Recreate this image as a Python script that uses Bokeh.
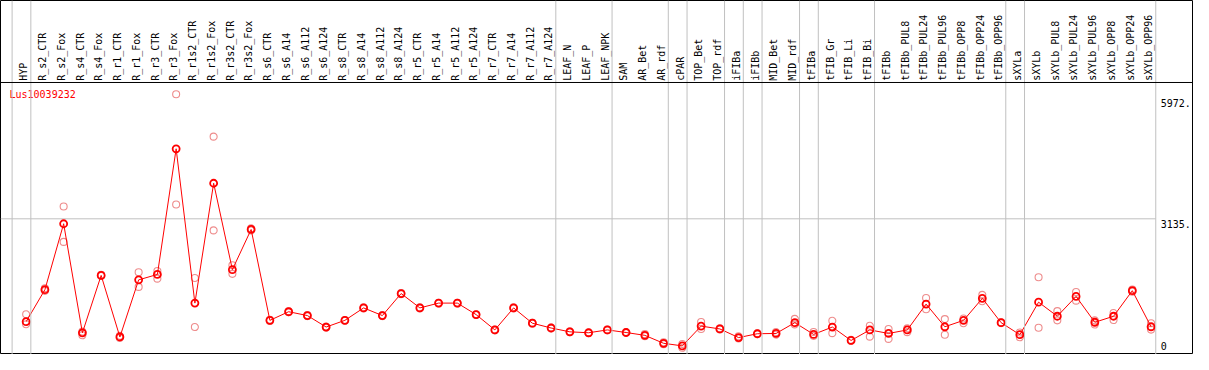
import math
from bokeh.plotting import figure
from bokeh.models import Range1d, Span, ColumnDataSource
from bokeh.core.properties import value
from bokeh.embed import file_html
from bokeh.resources import INLINE

gene = "Lus10039232"

samples = [
    "HYP", "R_s2_CTR", "R_s2_Fox", "R_s4_CTR", "R_s4_Fox", "R_r1_CTR", "R_r1_Fox",
    "R_r3_CTR", "R_r3_Fox", "R_r1s2_CTR", "R_r1s2_Fox", "R_r3s2_CTR", "R_r3s2_Fox",
    "R_s6_CTR", "R_s6_A14", "R_s6_A112", "R_s6_A124", "R_s8_CTR", "R_s8_A14",
    "R_s8_A112", "R_s8_A124", "R_r5_CTR", "R_r5_A14", "R_r5_A112", "R_r5_A124",
    "R_r7_CTR", "R_r7_A14", "R_r7_A112", "R_r7_A124", "LEAF_N", "LEAF_P", "LEAF_NPK",
    "SAM", "AR_Bet", "AR_rdf", "cPAR", "TOP_Bet", "TOP_rdf", "iFIBa", "iFIBb",
    "MID_Bet", "MID_rdf", "tFIBa", "tFIB_Gr", "tFIB_Li", "tFIB_Bi", "tFIBb",
    "tFIBb_PUL8", "tFIBb_PUL24", "tFIBb_PUL96", "tFIBb_OPP8", "tFIBb_OPP24",
    "tFIBb_OPP96", "sXYLa", "sXYLb", "sXYLb_PUL8", "sXYLb_PUL24", "sXYLb_PUL96",
    "sXYLb_OPP8", "sXYLb_OPP24", "sXYLb_OPP96",
]

means = [
    714, 1466, 3019, 452, 1803, 354, 1698, 1826, 4783, 1151, 3972, 1939, 2884,
    745, 948, 858, 588, 745, 1038, 858, 1376, 1038, 1151, 1151, 880, 520, 1038,
    678, 565, 475, 453, 520, 459, 392, 205, 144, 610, 543, 340, 430, 437, 691,
    414, 588, 272, 520, 437, 520, 1128, 594, 745, 1263, 691, 407, 1173, 842,
    1308, 700, 842, 1443, 594,
]

rep1 = [
    887, 1500, 3425, 480, 1820, 380, 1878, 1908, 6066, 1743, 5069, 2042, 2910,
    760, 960, 870, 600, 755, 1050, 870, 1390, 1050, 1160, 1160, 890, 530, 1050,
    690, 575, 485, 460, 530, 470, 420, 230, 190, 707, 560, 370, 440, 470, 781,
    470, 736, 285, 617, 543, 557, 1270, 775, 790, 1345, 700, 459, 1759, 962,
    1412, 745, 917, 1470, 678,
]

rep2 = [
    655, 1440, 2592, 394, 1790, 330, 1533, 1727, 3470, 588, 2862, 1840, 2860,
    730, 935, 845, 575, 735, 1025, 845, 1360, 1025, 1140, 1140, 870, 510, 1025,
    665, 555, 465, 445, 510, 450, 370, 185, 100, 543, 530, 320, 420, 410, 650,
    380, 444, 260, 362, 309, 467, 1007, 407, 678, 1195, 680, 347, 572, 745,
    1209, 646, 752, 1420, 527,
]

# y-axis tick values shown on the right
tick_values = [0, 3135, 5972]
tick_labels = ["0", "3135.", "5972."]

# last sample index of each group (a gray separator follows each)
group_ends = [-1, 0, 28, 31, 34, 35, 37, 38, 39, 41, 42, 45, 52, 53, 60]

# ---- layout (reference geometry: 19px per sample, zero at y=367.4px) ----
W, H = 1193, 354
REF_W, REF_H = 1209, 370
X0_PX, STEP_PX = 26.0, 19.0
Y0_PX, PX_PER_UNIT = 367.4, 0.04441

def v_at(px):
    return (Y0_PX - px) / PX_PER_UNIT

x_range = Range1d(-X0_PX / STEP_PX, (REF_W - X0_PX) / STEP_PX)
y_range = Range1d(v_at(REF_H), v_at(0))

p = figure(width=W, height=H, x_range=x_range, y_range=y_range,
           x_axis_type=None, y_axis_type=None, toolbar_location=None,
           output_backend="svg", min_border=0)
p.xgrid.visible = False
p.ygrid.visible = False
p.outline_line_color = "black"
p.outline_line_width = 1
p.background_fill_color = "white"
p.border_fill_color = "white"

FONT = value("DejaVu Sans Mono")
GRAY = "#c0c0c0"
RED = "#ff0000"
PINK = "#ee8c8c"

n = len(samples)
idx = list(range(n))

# group separators
for g in group_ends:
    p.add_layout(Span(location=g + 0.25, dimension="height",
                      line_color=GRAY, line_width=1))

# horizontal gridline at middle tick
p.segment(x0=[x_range.start], x1=[group_ends[-1] + 0.25],
          y0=[tick_values[1]], y1=[tick_values[1]],
          line_color=GRAY, line_width=1)

# header separator
header_v = v_at(85.7)
p.add_layout(Span(location=header_v, dimension="width",
                  line_color="black", line_width=1))

# sample labels (vertical)
lab_src = ColumnDataSource(dict(x=[i - 0.12 for i in idx],
                                y=[v_at(84.0)] * n, text=samples))
p.text(x="x", y="y", text="text", source=lab_src, angle=math.pi / 2,
       text_align="left", text_baseline="middle", text_font=FONT,
       text_font_size="10px", text_color="black")

# y tick labels
xt = group_ends[-1] + 0.25
p.text(x=[xt], y=[tick_values[0]], text=[tick_labels[0]], x_offset=5, y_offset=-2,
       text_align="left", text_baseline="bottom", text_font=FONT,
       text_font_size="10px", text_color="black")
p.text(x=[xt, xt], y=tick_values[1:], text=tick_labels[1:], x_offset=5, y_offset=1,
       text_align="left", text_baseline="top", text_font=FONT,
       text_font_size="10px", text_color="black")

# gene title
p.text(x=[x_range.start], y=[v_at(92.0)], text=[gene], x_offset=9,
       text_align="left", text_baseline="top", text_font=FONT,
       text_font_size="10px", text_color=RED)

# replicates
p.scatter(x=idx, y=rep1, marker="circle", size=7, fill_color=None,
          line_color=PINK, line_width=1.1)
p.scatter(x=idx, y=rep2, marker="circle", size=7, fill_color=None,
          line_color=PINK, line_width=1.1)

# mean profile
p.line(x=idx, y=means, line_color=RED, line_width=1)
p.scatter(x=idx, y=means, marker="circle", size=7, fill_color=None,
          line_color=RED, line_width=1.8)

open("out.html", "w").write(file_html(p, INLINE))
